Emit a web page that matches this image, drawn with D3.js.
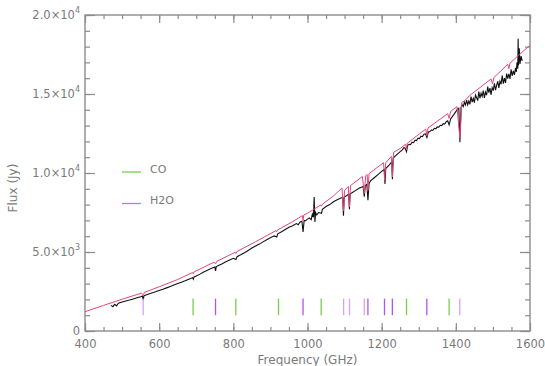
<!DOCTYPE html>
<html>
<head>
<meta charset="utf-8">
<script src="https://cdn.jsdelivr.net/npm/d3@7"></script>
<style>
  body { margin: 0; background: #fff; }
  svg text { font-family: "DejaVu Sans", "Liberation Sans", sans-serif; fill: #7a7a7a; }
</style>
</head>
<body>
<div id="chart"></div>
<script>
// model spectrum (pink), [GHz, Jy]
const modelFreq = [400, 450, 500, 553, 557, 561, 600, 650, 690, 692, 694, 748, 752, 756, 805, 807, 809, 860,
  915, 917, 919, 960, 986, 988, 990, 1000, 1036, 1038, 1040, 1070, 1093, 1097, 1100, 1110, 1113, 1116,
  1148, 1153, 1157, 1161, 1163, 1166, 1185, 1205, 1208, 1211, 1226, 1229, 1232, 1250, 1265, 1267, 1269,
  1303, 1319, 1322, 1325, 1378, 1382, 1386, 1403, 1411, 1416, 1425, 1438, 1495, 1499, 1503, 1540, 1543, 1546,
  1569, 1600];
const modelFlux = [1220, 1620, 2010, 2400, 2300, 2450, 2800, 3260, 3700, 3620, 3740, 4360, 4250, 4420, 4980, 4900, 5020, 5650,
  6350, 6280, 6390, 6920, 7300, 7000, 7340, 7450, 7980, 7900, 8020, 8550, 9050, 7600, 8900, 9150, 7850, 9200,
  9780, 8700, 9830, 9900, 8900, 9960, 10300, 10650, 9550, 10650, 11050, 9750, 11300, 11550, 11830, 11450, 11880,
  12500, 12780, 12350, 12850, 13760, 13450, 13900, 14200, 12200, 14450, 14600, 14920, 15950, 15650, 16050, 16880, 16600, 16950,
  17450, 18080];

// observed spectrum (black), [GHz, Jy]
const specFreq = [470, 475, 480, 485, 490, 500, 510, 520, 530, 540, 550, 555, 557, 559, 570, 580, 590, 600,
  610, 620, 630, 640, 650, 660, 670, 680, 690, 692, 694, 700, 710, 720, 730, 740, 750, 752, 754, 760,
  770, 780, 790, 800, 807, 810, 820, 830, 840, 850, 860, 870, 880, 890, 900, 910, 917, 920, 930, 940,
  950, 960, 970, 975, 980, 985, 988, 991, 995, 1000, 1005, 1010, 1013, 1016, 1018, 1020, 1022, 1025,
  1030, 1038, 1040, 1050, 1060, 1070, 1080, 1090, 1095, 1097, 1099, 1105, 1111, 1113, 1115, 1120, 1130,
  1140, 1150, 1153, 1156, 1160, 1163, 1166, 1170, 1180, 1190, 1200, 1207, 1209, 1211, 1220, 1227, 1229,
  1231, 1240, 1250, 1255, 1260, 1263, 1267, 1270, 1274, 1278, 1282, 1286, 1290, 1294, 1298, 1302, 1306,
  1310, 1314, 1318, 1322, 1326, 1330, 1334, 1338, 1342, 1346, 1350, 1354, 1358, 1362, 1366, 1370, 1374,
  1378, 1382, 1386, 1390, 1394, 1398, 1402, 1405, 1408, 1411, 1414, 1417, 1420, 1423, 1426, 1429, 1432,
  1435, 1438, 1441, 1444, 1447, 1450, 1453, 1456, 1459, 1462, 1465, 1468, 1471, 1474, 1477, 1480, 1483,
  1486, 1489, 1492, 1495, 1498, 1501, 1504, 1507, 1510, 1513, 1516, 1519, 1522, 1525, 1528, 1531, 1534,
  1537, 1540, 1543, 1546, 1549, 1552, 1555, 1558, 1561, 1563, 1565, 1567, 1568, 1569, 1571, 1573, 1576,
  1579];
const specFlux = [1620, 1540, 1690, 1590, 1760, 1830, 1900, 1960, 2030, 2100, 2170, 2210, 1950, 2240, 2330, 2410, 2480, 2560,
  2640, 2730, 2820, 2910, 3000, 3090, 3180, 3280, 3380, 3280, 3420, 3480, 3600, 3730, 3840, 3950, 4050, 3800, 4080, 4150,
  4260, 4380, 4490, 4600, 4520, 4700, 4820, 4950, 5100, 5250, 5380, 5500, 5640, 5780, 5900, 6020, 5950, 6150, 6280, 6420,
  6560, 6660, 6800, 6720, 6900, 6950, 6270, 7000, 6980, 7080, 7150, 7050, 7400, 7200, 8480, 6900, 7500, 7350,
  7500, 7450, 7700, 7880, 8000, 8180, 8300, 8420, 8450, 7300, 8480, 8560, 8650, 7700, 8680, 8750, 8900,
  9050, 9150, 8500, 9200, 9280, 8270, 9330, 9500, 9700, 9900, 10100, 10230, 9300, 10280, 10500, 10700, 9600,
  10950, 11150, 11350, 11450, 11600, 11580, 11350, 11750, 11820, 11800, 11950, 11920, 12080, 12050, 12200, 12180, 12330,
  12300, 12450, 12480, 12250, 12600, 12620, 12720, 12700, 12830, 12800, 12920, 12900, 13020, 13000, 13120, 13100, 13250,
  13300, 13050, 13420, 13550, 13680, 13820, 13950, 14050, 14100, 11950, 14150, 14310, 14200, 14480, 14310, 14620, 14310,
  14550, 14350, 14840, 14490, 14730, 14450, 14930, 14760, 14580, 15150, 14730, 15050, 14850, 15220, 14760, 15120, 14930,
  15470, 15080, 15370, 14950, 15400, 15210, 15680, 15240, 15540, 15800, 15390, 15800, 15620, 16160, 15660, 16000, 15700,
  16290, 15980, 16280, 15950, 16560, 16140, 16470, 16210, 16660, 16400, 17000, 16600, 18500, 16800, 17900, 16900, 17400,
  17100];

// line identifications (GHz)
const coLines = [691.5, 806.7, 921.8, 1036.9, 1267.0, 1381.9];
const h2oLines = [752.0, 988.0, 1162.9, 1207.6, 1228.8, 1321.8];
const h2oLinesOrtho = [556.9, 1097.4, 1113.3, 1153.1, 1410.6];
const markerLow = 1000, markerHigh = 2050;

const xMajor = [400, 600, 800, 1000, 1200, 1400, 1600];
const yMajor = [0, 5000, 10000, 15000, 20000];
const yLabels = [["0", ""], ["5.0×10", "3"], ["1.0×10", "4"], ["1.5×10", "4"], ["2.0×10", "4"]];

const margin = { top: 15, right: 15, bottom: 35, left: 85 };
const width = 545 - margin.left - margin.right;
const height = 366 - margin.top - margin.bottom;

const svg = d3.select('#chart').append('svg')
  .attr('width', 545).attr('height', 366)
  .append('g')
  .attr('transform', `translate(${margin.left},${margin.top})`);

const x = d3.scaleLinear().domain([400, 1600]).range([0, width]);
const y = d3.scaleLinear().domain([0, 20000]).range([height, 0]);

const axisColor = '#8c8c8c';

// minor ticks
svg.append('g').attr('transform', `translate(0,${height})`)
  .call(d3.axisBottom(x).tickValues(d3.range(400, 1601, 50)).tickSize(-4).tickFormat(''));
svg.append('g')
  .call(d3.axisTop(x).tickValues(d3.range(400, 1601, 50)).tickSize(-4).tickFormat(''));
svg.append('g')
  .call(d3.axisLeft(y).tickValues(d3.range(0, 20001, 1000)).tickSize(-5).tickFormat(''));
svg.append('g').attr('transform', `translate(${width},0)`)
  .call(d3.axisRight(y).tickValues(d3.range(0, 20001, 1000)).tickSize(-5).tickFormat(''));

// major ticks
const xAx = svg.append('g').attr('transform', `translate(0,${height})`)
  .call(d3.axisBottom(x).tickValues(xMajor).tickSize(-8).tickPadding(9).tickFormat(d3.format('d')));
svg.append('g')
  .call(d3.axisTop(x).tickValues(xMajor).tickSize(-8).tickFormat(''));
const yAx = svg.append('g')
  .call(d3.axisLeft(y).tickValues(yMajor).tickSize(-10).tickPadding(5).tickFormat(''));
svg.append('g').attr('transform', `translate(${width},0)`)
  .call(d3.axisRight(y).tickValues(yMajor).tickSize(-10).tickFormat(''));

svg.selectAll('.domain').remove();
svg.selectAll('.tick line').attr('stroke', axisColor).attr('stroke-width', 1.2);
xAx.selectAll('text').attr('font-size', 11.5).style('fill', '#7a7a7a');

// y labels with superscript exponent
yAx.selectAll('.tick').each(function (d, i) {
  const t = d3.select(this).select('text')
    .attr('font-size', 11.5).attr('dy', '0.3em').style('fill', '#7a7a7a');
  t.text(null);
  t.append('tspan').text(yLabels[i][0]);
  if (yLabels[i][1]) {
    t.append('tspan').attr('font-size', 8).attr('dy', '-0.7em').text(yLabels[i][1]);
  }
});

// frame
svg.append('rect').attr('width', width).attr('height', height)
  .attr('fill', 'none').attr('stroke', axisColor).attr('stroke-width', 1.4);

// spectra
const line = d3.line().x(d => x(d[0])).y(d => y(d[1]));
svg.append('path')
  .attr('d', line(d3.zip(specFreq, specFlux)))
  .attr('fill', 'none').attr('stroke', '#111').attr('stroke-width', 1.1);
svg.append('path')
  .attr('d', line(d3.zip(modelFreq, modelFlux)))
  .attr('fill', 'none').attr('stroke', '#e8457a').attr('stroke-width', 1);

// line markers
const markers = [
  { lines: coLines, color: '#72d04e' },
  { lines: h2oLines, color: '#b651ee' },
  { lines: h2oLinesOrtho, color: '#d8a2fb' }
];
markers.forEach(m => {
  svg.selectAll(null).data(m.lines).join('line')
    .attr('x1', d => x(d)).attr('x2', d => x(d))
    .attr('y1', y(markerLow)).attr('y2', y(markerHigh))
    .attr('stroke', m.color).attr('stroke-width', 1.3);
});

// legend
const legend = [{ name: 'CO', color: '#72d04e' }, { name: 'H2O', color: '#c470f2' }];
legend.forEach((l, i) => {
  const ly = 157 + i * 31.5;
  svg.append('line').attr('x1', 37).attr('x2', 56).attr('y1', ly).attr('y2', ly)
    .attr('stroke', l.color).attr('stroke-width', 1.3);
  svg.append('text').attr('x', 65).attr('y', ly - 3).attr('dy', '0.36em')
    .attr('font-size', 11).text(l.name);
});

// axis titles
svg.append('text').attr('x', width / 2).attr('y', height + 33)
  .attr('text-anchor', 'middle').attr('font-size', 12).text('Frequency (GHz)');
svg.append('text')
  .attr('transform', `translate(${-68},${height / 2 + 15}) rotate(-90)`)
  .attr('text-anchor', 'middle').attr('font-size', 12).text('Flux (Jy)');
</script>
</body>
</html>
